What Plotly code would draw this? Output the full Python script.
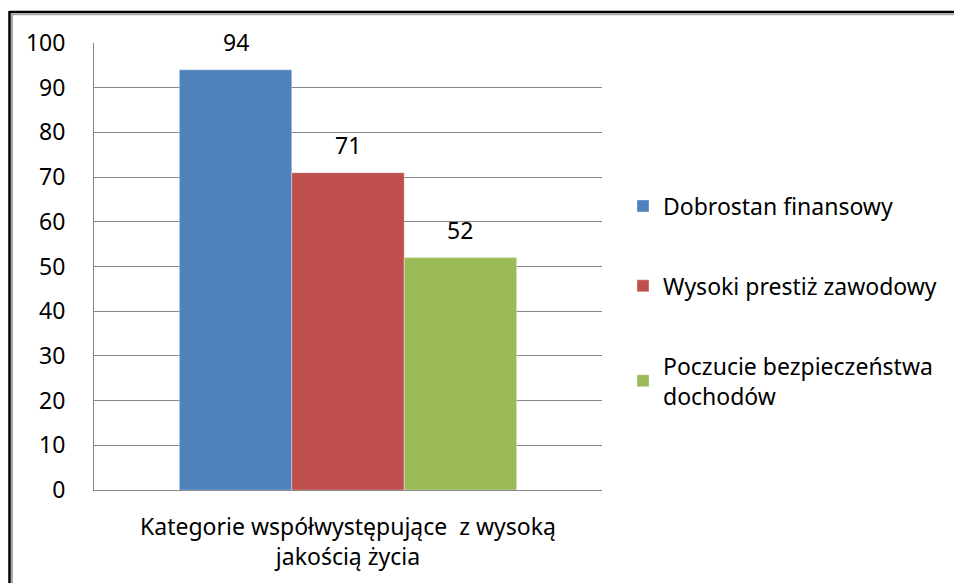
import plotly.graph_objects as go

category = ["Kategorie współwystępujące  z wysoką<br>jakością życia"]
series_names = ["Dobrostan finansowy", "Wysoki prestiż zawodowy", "Poczucie bezpieczeństwa<br>dochodów"]
series_values = [94, 71, 52]
series_colors = ["#4F81BD", "#C0504D", "#9BBB59"]
y_ticks = [0, 10, 20, 30, 40, 50, 60, 70, 80, 90, 100]

FONT = "Noto Sans, Calibri, Arial, sans-serif"
FS = 23
OFF = 8  # default page body margin
W, H = 962 - OFF, 583 - OFF
L, T = 94 - OFF, 43 - OFF
R = W - (602 - OFF)
B = H - (490 - OFF)
BARGAP = 0.336

fig = go.Figure()
for i, (name, val, col) in enumerate(zip(series_names, series_values, series_colors)):
    fig.add_trace(go.Bar(
        x=category, y=[val], name=name,
        marker=dict(color=col, line=dict(color="rgba(255,255,255,0.35)", width=1)),
        legendgroup=f"g{i}", hoverinfo="name+y",
    ))

# data labels centred over each bar of the group
plot_w = W - L - R
plot_h = H - T - B
bar_w = plot_w * (1 - BARGAP) / len(series_values)
annotations = []
for i, val in enumerate(series_values):
    annotations.append(dict(
        x=category[0], y=val, xref="x", yref="y", text=str(val), showarrow=False,
        xanchor="center", yanchor="bottom", yshift=10,
        xshift=(i - (len(series_values) - 1) / 2) * bar_w,
        font=dict(family=FONT, size=FS, color="#000"),
    ))

def px_x(p):  # page pixel -> paper x
    return (p - OFF - L) / plot_w

def px_y(p):  # page pixel -> paper y
    return (H - B - (p - OFF)) / plot_h

shapes = [
    dict(type="line", xref="paper", yref="paper", x0=px_x(9.5), x1=px_x(975), y0=px_y(12), y1=px_y(12),
         line=dict(color="#000", width=2.5)),
    dict(type="line", xref="paper", yref="paper", x0=px_x(9.5), x1=px_x(9.5), y0=px_y(11), y1=px_y(600),
         line=dict(color="#000", width=2.5)),
    dict(type="line", xref="paper", yref="paper", x0=px_x(12), x1=px_x(975), y0=px_y(14.3), y1=px_y(14.3),
         line=dict(color="#A8A8A8", width=2)),
    dict(type="line", xref="paper", yref="paper", x0=px_x(12), x1=px_x(12), y0=px_y(13.5), y1=px_y(600),
         line=dict(color="#A8A8A8", width=2)),
]

fig.update_layout(
    width=W, height=H,
    margin=dict(l=L, r=R, t=T, b=B, pad=0, autoexpand=False),
    paper_bgcolor="white", plot_bgcolor="white",
    font=dict(family=FONT, size=FS, color="#000"),
    barmode="group", bargap=BARGAP, bargroupgap=0,
    showlegend=True,
    legend=dict(x=px_x(623), y=px_y(301), xanchor="left", yanchor="middle",
                traceorder="grouped", tracegroupgap=47,
                font=dict(family=FONT, size=FS, color="#000"),
                itemwidth=30),
    shapes=shapes,
    annotations=annotations,
)
fig.update_yaxes(range=[0, 100], tickvals=y_ticks, showgrid=True, gridcolor="#878787", gridwidth=1,
                 showline=True, linecolor="#878787", linewidth=1, ticks="", zeroline=False,
                 tickfont=dict(family=FONT, size=FS, color="#000"), ticklabelstandoff=23)
fig.update_xaxes(showline=True, linecolor="#878787", linewidth=1, ticks="", showgrid=False,
                 tickfont=dict(family=FONT, size=FS, color="#000"), ticklabelstandoff=16)

fig.write_html("out.html")
